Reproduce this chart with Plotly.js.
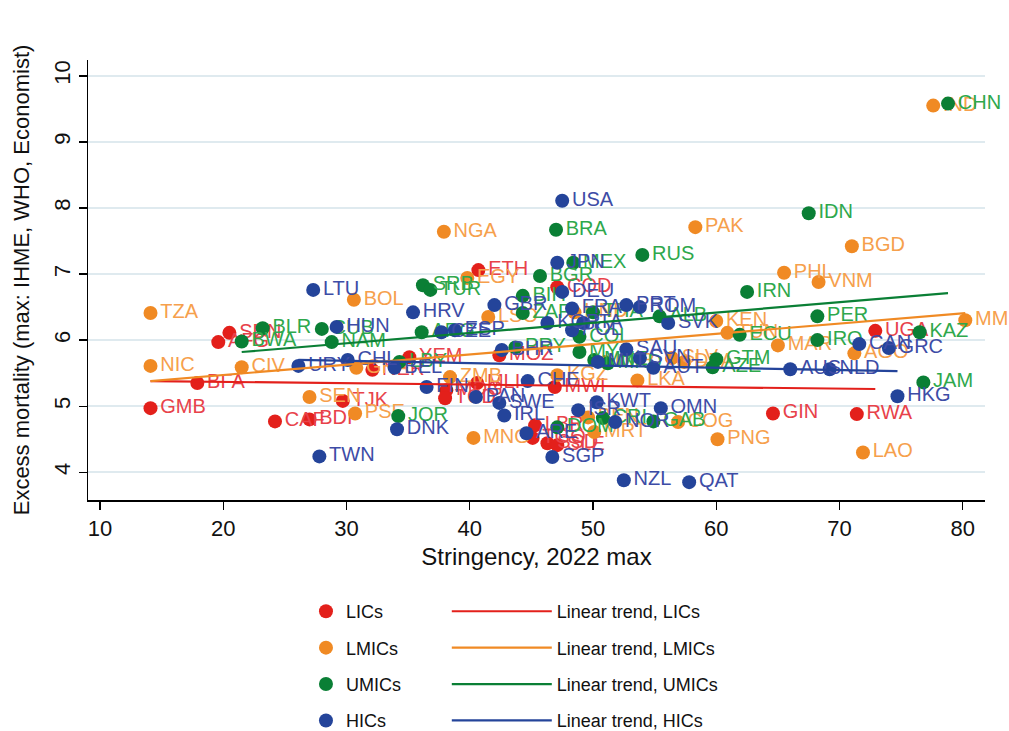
<!DOCTYPE html>
<html>
<head>
<meta charset="utf-8">
<script src="https://cdn.plot.ly/plotly-3.0.1.min.js"></script>
<style>html,body{margin:0;padding:0;background:#fff}</style>
</head>
<body>
<div id="chart" style="width:1009px;height:731px"></div>
<script>
// Excess mortality vs. maximum 2022 stringency, by income group

// Low-income countries
const licCodes = ["GMB","BFA","AFG","SDN","CAF","BDI","TJK","NER","YEM","MDG","TCD","MLI","ETH","MOZ","MWI","COD","LBR","TGO","SSD","SLE","GIN","RWA","UGA"];
const licX = [14.1,17.9,19.6,20.5,24.2,27.0,29.7,32.1,35.1,38.1,38.0,40.6,40.7,42.4,46.9,47.1,45.3,45.1,46.3,47.1,64.6,71.4,72.9];
const licY = [4.97,5.35,5.97,6.11,4.77,4.80,5.08,5.55,5.74,5.24,5.12,5.35,7.06,5.77,5.29,6.80,4.71,4.52,4.44,4.41,4.89,4.88,6.14];

// Lower-middle-income countries
const lmicCodes = ["TZA","NIC","CIV","SEN","PSE","GHA","BOL","NGA","EGY","ZMB","LSO","MNG","KGZ","HND","BEN","MRT","LKA","SLV","DZA","COG","PNG","KEN","TUN","PAK","PHL","MAR","VNM","BGD","AGO","LAO","IND","MMR","UZB"];
const lmicX = [14.1,14.1,21.5,27.0,30.7,30.8,30.6,37.9,39.8,38.4,41.5,40.3,47.1,48.5,49.6,50.1,53.6,56.4,57.4,56.9,60.1,60.0,60.9,58.3,65.5,65.0,68.3,71.0,71.2,71.9,77.6,80.2,51.0];
const lmicY = [6.41,5.61,5.59,5.14,4.89,5.58,6.61,7.64,6.94,5.44,6.35,4.52,5.47,6.42,4.83,4.61,5.39,5.73,5.67,4.76,4.50,6.29,6.11,7.71,7.02,5.92,6.88,7.42,5.80,4.30,9.55,6.30,5.67];

// Upper-middle-income countries
const umicCodes = ["BWA","BLR","CUB","NAM","SRB","TUR","ARG","LBY","JOR","PRY","BIH","ZAF","BGR","BRA","MEX","MYS","COL","THA","MNE","MKD","DOM","CRI","GAB","ALB","RUS","GTM","AZE","IRN","ECU","IDN","PER","IRQ","KAZ","JAM","CHN"];
const umicX = [21.5,23.2,28.0,28.8,36.2,36.8,36.1,34.3,34.2,43.7,44.3,44.3,45.7,47.0,48.4,48.9,48.9,50.0,50.1,51.2,47.1,50.8,54.9,55.4,54.0,60.0,59.7,62.5,61.9,67.5,68.2,68.2,76.5,76.8,78.8];
const umicY = [5.98,6.18,6.17,5.97,6.83,6.76,6.12,5.67,4.85,5.89,6.67,6.41,6.97,7.67,7.17,5.82,6.05,6.42,5.70,5.65,4.68,4.82,4.77,6.36,7.29,5.71,5.59,6.73,6.08,7.92,6.36,6.00,6.12,5.36,9.58];

// High-income countries
const hicCodes = ["URY","LTU","TWN","HUN","CHL","BEL","DNK","HRV","CZE","ESP","FIN","PAN","GBR","BHR","SWE","IRL","CHE","ARE","SGP","KOR","USA","JPN","DEU","FRA","POL","ITA","MLT","ISR","KWT","NOR","SAU","PRT","ROM","SVN","AUT","SVK","OMN","NZL","QAT","AUS","NLD","CAN","GRC","HKG"];
const hicX = [26.1,27.3,27.8,29.2,30.1,33.9,34.1,35.4,37.7,38.8,36.5,40.5,42.0,42.6,42.4,42.8,44.7,44.6,46.7,46.3,47.5,47.1,47.5,48.3,48.3,49.2,50.4,48.8,50.3,51.8,52.7,52.7,53.8,53.8,54.9,56.1,55.5,52.5,57.8,66.0,69.2,71.6,74.0,74.7];
const hicY = [5.61,6.76,4.24,6.20,5.70,5.58,4.65,6.42,6.12,6.15,5.29,5.14,6.53,5.85,5.05,4.86,5.38,4.59,4.23,6.26,8.11,7.17,6.73,6.48,6.15,6.26,5.67,4.94,5.06,4.76,5.86,6.53,6.50,5.73,5.58,6.26,4.97,3.88,3.85,5.56,5.56,5.94,5.88,5.15];

// Fitted linear trends: endpoints over each group's stringency range
const licTrendX = [14.1, 72.9],  licTrendY = [5.38, 5.26];
const lmicTrendX = [14.1, 80.2], lmicTrendY = [5.38, 6.41];
const umicTrendX = [21.5, 78.8], umicTrendY = [5.82, 6.71];
const hicTrendX = [26.1, 74.7],  hicTrendY = [5.70, 5.53];

const groups = [
  {name: "LICs",  codes: licCodes,  x: licX,  y: licY,  tx: licTrendX,  ty: licTrendY,  mc: "#e3201b", tc: "#e8424a"},
  {name: "LMICs", codes: lmicCodes, x: lmicX, y: lmicY, tx: lmicTrendX, ty: lmicTrendY, mc: "#f08a24", tc: "#f6a04c"},
  {name: "UMICs", codes: umicCodes, x: umicX, y: umicY, tx: umicTrendX, ty: umicTrendY, mc: "#0a7f35", tc: "#2ea84c"},
  {name: "HICs",  codes: hicCodes,  x: hicX,  y: hicY,  tx: hicTrendX,  ty: hicTrendY,  mc: "#24449a", tc: "#3d4ca6"}
];

const FONT = "Liberation Sans, Arial, Helvetica, sans-serif";
const traces = [];

groups.forEach((g, i) => {
  traces.push({
    type: "scatter", mode: "markers+text",
    name: g.name, legend: "legend", legendgroup: "p" + i,
    x: g.x, y: g.y, text: g.codes,
    textposition: "middle right",
    textfont: {family: FONT, size: 20, color: g.tc},
    marker: {size: 14, color: g.mc, line: {width: 0}},
    cliponaxis: false,
    hoverinfo: "text+x+y"
  });
});

groups.forEach((g, i) => {
  traces.push({
    type: "scatter", mode: "lines",
    name: "Linear trend, " + g.name, legend: "legend2", legendgroup: "t" + i,
    x: g.tx, y: g.ty,
    line: {color: g.mc, width: 2.2},
    hoverinfo: "skip"
  });
});

const layout = {
  width: 1009, height: 731,
  paper_bgcolor: "#ffffff", plot_bgcolor: "#ffffff",
  margin: {l: 88, r: 24, t: 60, b: 231, autoexpand: false},
  font: {family: FONT, color: "#111"},
  showlegend: true,
  xaxis: {
    range: [9.03, 81.8], tickvals: [10,20,30,40,50,60,70,80],
    showgrid: false, zeroline: false,
    showline: true, linecolor: "#000", linewidth: 1.5,
    ticks: "outside", ticklen: 8, tickcolor: "#000", tickwidth: 1.3,
    tickfont: {family: FONT, size: 22, color: "#111"},
    title: {text: "Stringency, 2022 max", font: {family: FONT, size: 24, color: "#111"}, standoff: 8}
  },
  yaxis: {
    range: [3.58, 10.24], tickvals: [4,5,6,7,8,9,10], tickangle: -90,
    showgrid: true, gridcolor: "#dfeaef", gridwidth: 2,
    zeroline: false,
    showline: true, linecolor: "#000", linewidth: 1.5,
    ticks: "outside", ticklen: 8, tickcolor: "#000", tickwidth: 1.3,
    tickfont: {family: FONT, size: 22, color: "#111"},
    title: {text: "Excess mortality (max: IHME, WHO, Economist)", font: {family: FONT, size: 22, color: "#111"}, standoff: 14}
  },
  legend: {
    x: 0.243, y: -0.2115, xanchor: "left", yanchor: "top",
    orientation: "v", tracegroupgap: 10, bgcolor: "rgba(0,0,0,0)",
    font: {family: FONT, size: 18, color: "#111"}
  },
  legend2: {
    x: 0.40, y: -0.2115, xanchor: "left", yanchor: "top",
    orientation: "v", tracegroupgap: 10, itemwidth: 100, bgcolor: "rgba(0,0,0,0)",
    font: {family: FONT, size: 18, color: "#111"}
  }
};

Plotly.newPlot("chart", traces, layout, {displayModeBar: false, staticPlot: true});
</script>
</body>
</html>
